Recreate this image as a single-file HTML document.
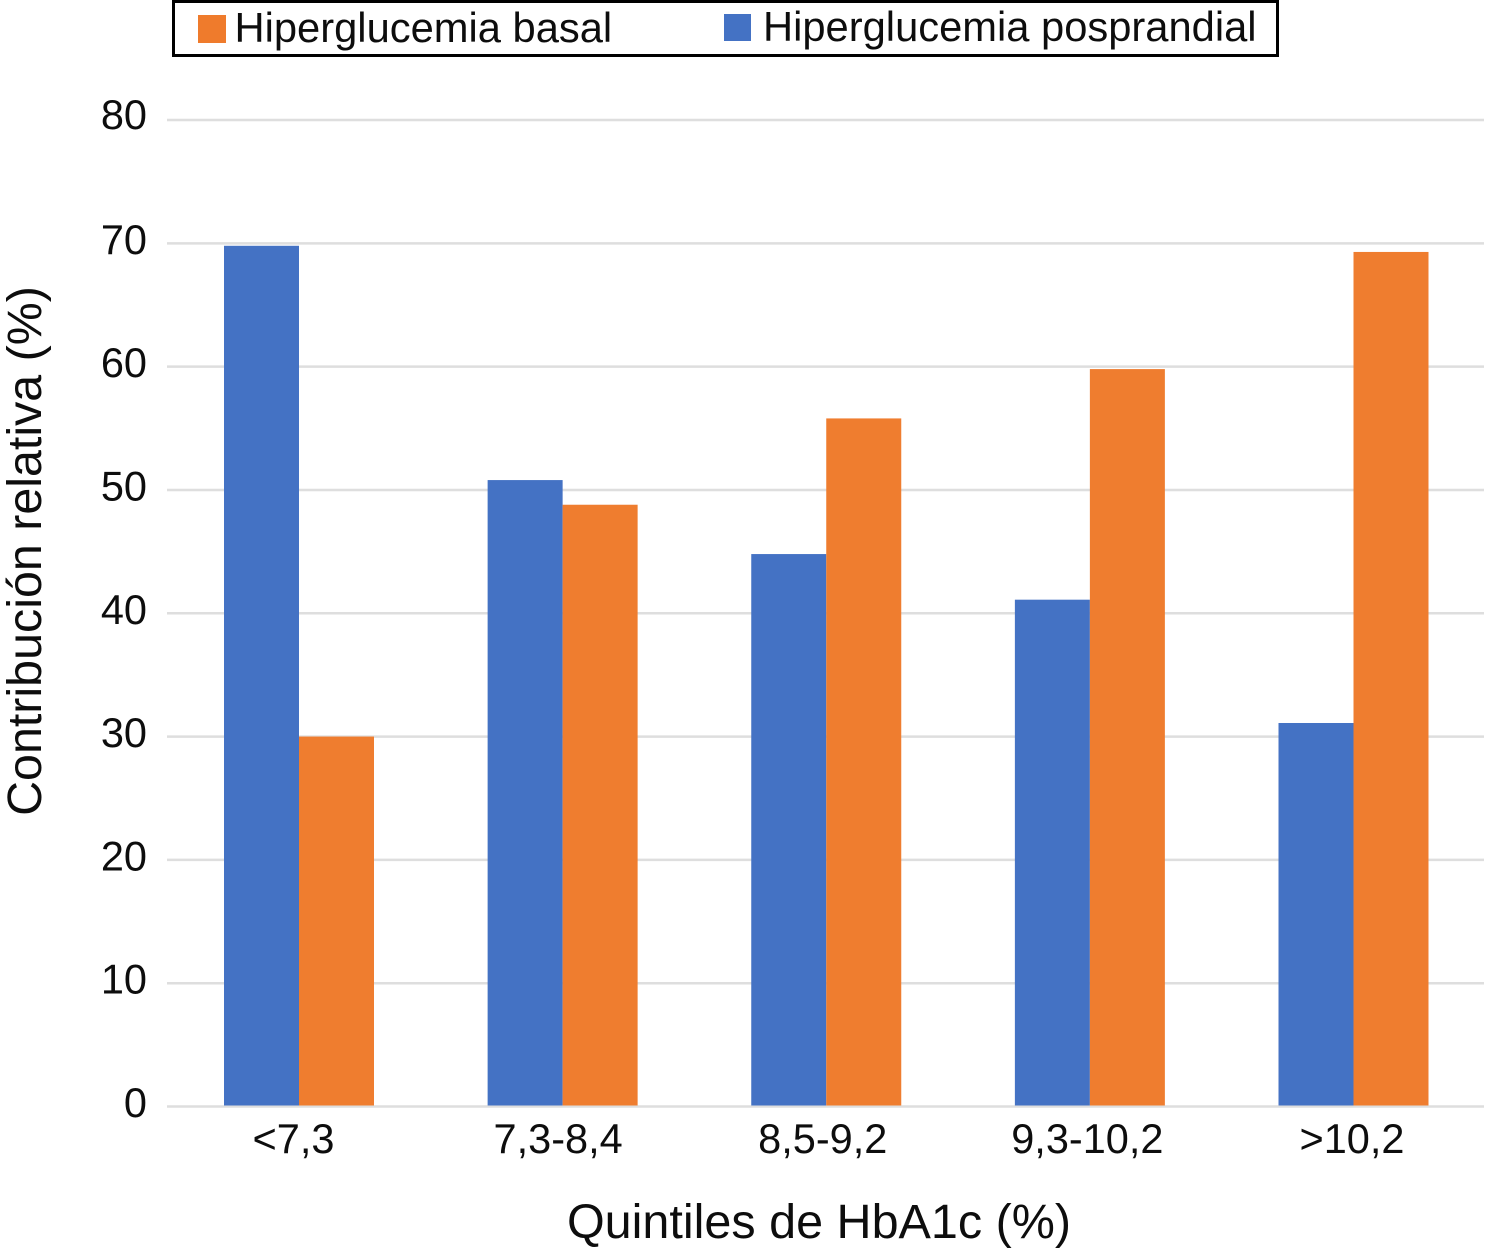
<!DOCTYPE html>
<html lang="es">
<head>
<meta charset="utf-8">
<title>Contribución relativa por quintiles de HbA1c</title>
<style>
html,body{margin:0;padding:0;background:#fff;width:1495px;height:1248px;overflow:hidden}
svg{display:block;font-family:"Liberation Sans",Arial,sans-serif;fill:#0d0d0d}
</style>
</head>
<body>
<svg id="chart" width="1495" height="1248" viewBox="0 0 1495 1248" xmlns="http://www.w3.org/2000/svg">
  <g id="grid"></g>
  <g id="bars"></g>
  <g id="yticks"></g>
  <g id="xticks"></g>
  <text transform="translate(41,551) rotate(-90)" text-anchor="middle" font-size="48.4">Contribución relativa (%)</text>
  <text x="819" y="1238" text-anchor="middle" font-size="48.5">Quintiles de HbA1c (%)</text>
  <g>
    <rect x="173.5" y="1.5" width="1104" height="54" fill="#fff" stroke="#000" stroke-width="3"></rect>
    <rect x="198" y="15" width="28" height="28" fill="#ef7b2c"></rect>
    <text x="234.5" y="42" font-size="41.7">Hiperglucemia basal</text>
    <rect x="724" y="14" width="27" height="27" fill="#4472c4"></rect>
    <text x="763" y="41" font-size="41.7">Hiperglucemia posprandial</text>
  </g>
</svg>
<script>
const categories = ["<7,3", "7,3-8,4", "8,5-9,2", "9,3-10,2", ">10,2"];
const posprandialValues = [69.8, 50.8, 44.8, 41.1, 31.1];
const basalValues = [30, 48.8, 55.8, 59.8, 69.3];
const yTickLabels = [0, 10, 20, 30, 40, 50, 60, 70, 80];

const NS = "http://www.w3.org/2000/svg";
const plotLeft = 167, plotRight = 1484, y0 = 1106.5, y80 = 120;
const barBase = 1105.5;
const blueWidth = 75, orangeWidth = 75;
const firstCenter = 299, lastCenter = 1353.5;
const firstLabel = 293.5, lastLabel = 1352;

function yScale(v) { return y0 - (v / 80) * (y0 - y80); }
function xCenter(i) {
  return firstCenter + i * (lastCenter - firstCenter) / (categories.length - 1);
}
function xLabel(i) {
  return firstLabel + i * (lastLabel - firstLabel) / (categories.length - 1);
}
function make(tag, attrs, parent) {
  const el = document.createElementNS(NS, tag);
  for (const k in attrs) el.setAttribute(k, attrs[k]);
  parent.appendChild(el);
  return el;
}

const gridG = document.getElementById("grid");
const ytG = document.getElementById("yticks");
yTickLabels.forEach(function (t) {
  const y = yScale(t);
  const line = make("line", { x1: plotLeft, x2: plotRight, y1: y, y2: y, stroke: "#dedede", "stroke-width": 2.5 }, gridG);
  
  
  const label = make("text", { x: 147, y: y + (t === 80 ? 9 : 10.5), "text-anchor": "end", "font-size": 41.5 }, ytG);
  
  
  label.textContent = t;
});

const barsG = document.getElementById("bars");
const xtG = document.getElementById("xticks");
categories.forEach(function (c, i) {
  const cx = xCenter(i);
  const bp = make("rect", {
    x: cx - blueWidth, y: yScale(posprandialValues[i]), width: blueWidth,
    height: barBase - yScale(posprandialValues[i]), fill: "#4472c4"
  }, barsG);
  
  
  const bb = make("rect", {
    x: cx, y: yScale(basalValues[i]), width: orangeWidth,
    height: barBase - yScale(basalValues[i]), fill: "#ef7d2f"
  }, barsG);
  
  
  const label = make("text", { x: xLabel(i), y: 1153, "text-anchor": "middle", "font-size": 41.5 }, xtG);
  
  
  label.textContent = c;
});
</script>
</body>
</html>
